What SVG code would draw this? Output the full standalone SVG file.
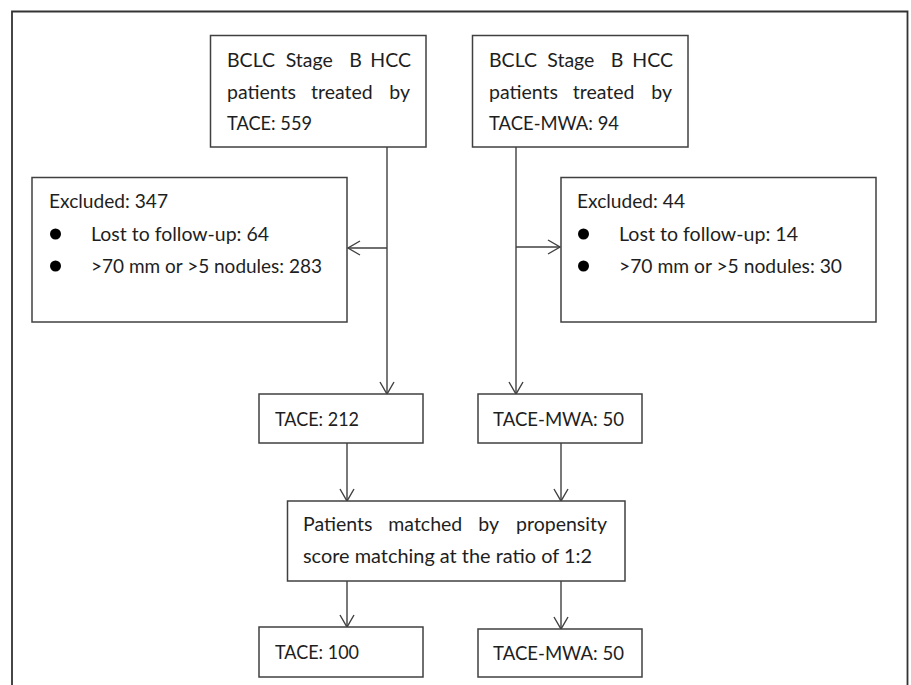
<svg xmlns="http://www.w3.org/2000/svg" width="911" height="685" viewBox="0 0 911 685">
<style>
.bx{fill:#fff;stroke:#404040;stroke-width:1.5}
.t{font-family:Lato,"Liberation Sans",sans-serif;font-size:19.5px;fill:#1e1e1e}
.e{text-anchor:end}
.c{fill:none;stroke:#404040;stroke-width:1.4}
.bul{fill:#000}
</style>
<defs>
<marker id="arr" markerUnits="userSpaceOnUse" markerWidth="16" markerHeight="18" viewBox="-14 -9 16 18" refX="0" refY="0" orient="auto">
<path d="M-12,-7 L0,0 L-12,7" fill="none" stroke="#404040" stroke-width="1.4"/>
</marker>
</defs>
<rect width="911" height="685" fill="#fff"/>
<path d="M12,690 V11.5 H907.5 V690" fill="none" stroke="#333" stroke-width="1.8"/>
<g id="connectors">
<line class="c" x1="387" y1="147" x2="387" y2="394" marker-end="url(#arr)"/>
<line class="c" x1="387" y1="248" x2="348" y2="248" marker-end="url(#arr)"/>
<line class="c" x1="516" y1="147" x2="516" y2="394" marker-end="url(#arr)"/>
<line class="c" x1="516" y1="247" x2="560" y2="247" marker-end="url(#arr)"/>
<line class="c" x1="347" y1="443" x2="347" y2="501" marker-end="url(#arr)"/>
<line class="c" x1="561" y1="443" x2="561" y2="501" marker-end="url(#arr)"/>
<line class="c" x1="347" y1="581" x2="347" y2="627" marker-end="url(#arr)"/>
<line class="c" x1="561" y1="581" x2="561" y2="629" marker-end="url(#arr)"/>
</g>
<g id="n-tace559">
<rect class="bx" x="210.5" y="35.5" width="215.5" height="111.5"/>
<text class="t" y="67"><tspan x="227">BCLC</tspan><tspan x="285.7">Stage</tspan><tspan x="349.3">B</tspan></text>
<text class="t e" x="411" y="67">HCC</text>
<text class="t" y="98.5"><tspan x="227">patients</tspan><tspan x="311">treated</tspan></text>
<text class="t e" x="410" y="98.5">by</text>
<text class="t" x="227" y="130" textLength="85" lengthAdjust="spacingAndGlyphs">TACE: 559</text>
</g>
<g id="n-mwa94">
<rect class="bx" x="472.5" y="35.5" width="215.5" height="111.5"/>
<text class="t" y="67"><tspan x="489">BCLC</tspan><tspan x="547.3">Stage</tspan><tspan x="610.7">B</tspan></text>
<text class="t e" x="673" y="67">HCC</text>
<text class="t" y="98.5"><tspan x="489">patients</tspan><tspan x="572.7">treated</tspan></text>
<text class="t e" x="672" y="98.5">by</text>
<text class="t" x="489" y="130" textLength="130" lengthAdjust="spacingAndGlyphs">TACE-MWA: 94</text>
</g>
<g id="n-excl347">
<rect class="bx" x="32" y="177.5" width="315" height="144.5"/>
<text class="t" x="49" y="208" textLength="119" lengthAdjust="spacingAndGlyphs">Excluded: 347</text>
<circle class="bul" cx="55.5" cy="234" r="5.5"/>
<text class="t" x="91" y="240.5" textLength="178" lengthAdjust="spacingAndGlyphs">Lost to follow-up: 64</text>
<circle class="bul" cx="55.5" cy="266" r="5.5"/>
<text class="t" x="91" y="272.5" textLength="231" lengthAdjust="spacingAndGlyphs">&gt;70 mm or &gt;5 nodules: 283</text>
</g>
<g id="n-excl44">
<rect class="bx" x="561" y="177.5" width="315" height="144.5"/>
<text class="t" x="577" y="208" textLength="108" lengthAdjust="spacingAndGlyphs">Excluded: 44</text>
<circle class="bul" cx="583.5" cy="234" r="5.5"/>
<text class="t" x="619" y="240.5" textLength="179" lengthAdjust="spacingAndGlyphs">Lost to follow-up: 14</text>
<circle class="bul" cx="583.5" cy="266" r="5.5"/>
<text class="t" x="619" y="272.5" textLength="223" lengthAdjust="spacingAndGlyphs">&gt;70 mm or &gt;5 nodules: 30</text>
</g>
<g id="n-tace212">
<rect class="bx" x="259" y="394" width="164" height="49"/>
<text class="t" x="275" y="426" textLength="84" lengthAdjust="spacingAndGlyphs">TACE: 212</text>
</g>
<g id="n-mwa50a">
<rect class="bx" x="478" y="394" width="164" height="49"/>
<text class="t" x="493" y="426" textLength="131" lengthAdjust="spacingAndGlyphs">TACE-MWA: 50</text>
</g>
<g id="n-match">
<rect class="bx" x="287.5" y="501" width="337.5" height="80"/>
<text class="t" y="531"><tspan x="303">Patients</tspan><tspan x="388.3">matched</tspan><tspan x="478.3">by</tspan></text>
<text class="t e" x="607" y="531">propensity</text>
<text class="t" x="303" y="563" textLength="289" lengthAdjust="spacingAndGlyphs">score matching at the ratio of 1:2</text>
</g>
<g id="n-tace100">
<rect class="bx" x="259" y="627" width="164" height="50"/>
<text class="t" x="275" y="659" textLength="84" lengthAdjust="spacingAndGlyphs">TACE: 100</text>
</g>
<g id="n-mwa50b">
<rect class="bx" x="478" y="629" width="164" height="48"/>
<text class="t" x="493" y="660" textLength="131" lengthAdjust="spacingAndGlyphs">TACE-MWA: 50</text>
</g>
</svg>
